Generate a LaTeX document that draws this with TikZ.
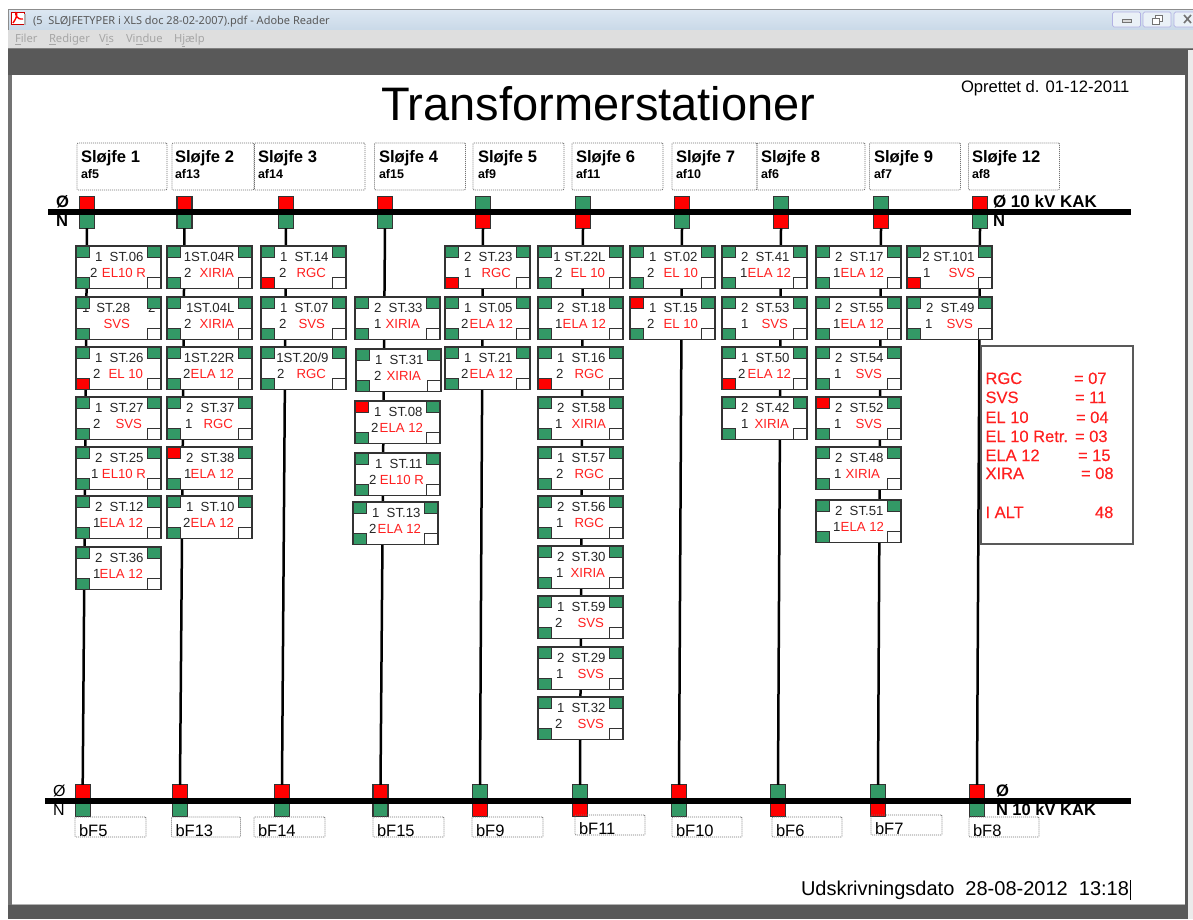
\documentclass[tikz,border=0pt]{standalone}
\usepackage{fontspec}
\setmainfont{Liberation Sans}
\newfontfamily\winfont{Noto Sans}
\newfontfamily\legfont[FakeBold=0.25]{Liberation Sans}
\definecolor{sqg}{HTML}{339966}
\definecolor{sqr}{HTML}{FF0000}
\definecolor{edge}{HTML}{333333}
\definecolor{lbl}{HTML}{FF2020}
\definecolor{tbtop}{HTML}{DCE7F2}
\definecolor{tbbot}{HTML}{C9D9E8}
\newcommand{\fs}[1]{\fontsize{#1}{#1}\selectfont}
\tikzset{
  txt/.style={inner sep=0,outer sep=0,anchor=base west},
  stnbox/.style={draw=edge,line width=1.3pt,fill=white,minimum width=85pt,minimum height=42.5pt,inner sep=0,outer sep=0,anchor=north west},
  corner/.style={draw=edge,line width=1.2pt,minimum width=13.8pt,minimum height=11.2pt,inner sep=0,outer sep=0},
  term/.style={draw=edge,line width=1.1pt,minimum width=15pt,minimum height=13.5pt,inner sep=0,outer sep=0},
  feeder/.style={draw=black,line width=2.5pt},
  busbar/.style={draw=black,line width=5.5pt},
  dotbox/.style={draw=black!55,line width=.8pt,dash pattern=on 1pt off 1pt,rounded corners=1pt,inner sep=0,outer sep=0,anchor=north west},
  hdrtxt/.style={txt,font=\bfseries\fs{16.6}},
  aftxt/.style={txt,font=\bfseries\fs{12.5}},
  bftxt/.style={txt,font=\fs{16.5}},
  bustxt/.style={txt,font=\bfseries\fs{16.6}},
  busplain/.style={txt,font=\fs{16}},
  legtxt/.style={txt,font=\legfont\fs{16.5},text=lbl},
  menutxt/.style={txt,font=\winfont\fs{11.2},text=black!35},
  winbtn/.style={draw=black!35!blue!30!white,fill=tbtop!60!white,line width=.7pt,rounded corners=1.5pt,minimum width=28pt,minimum height=15pt,inner sep=0,outer sep=0}
}
\newcommand{\stbox}[9]{%
  \node[stnbox] (#1) at (\cx,#2) {};
  \node[txt,anchor=base east,font=\fs{13.2},text=black!85] (#1a) at ({\cx+67.5},{#2+15.5}) {#5};
  \node[txt,font=\fs{13.2},text=black!85] (#1b) at ({\cx+#7-0.9},{#2+31.5}) {#6};
  \node[txt,anchor=base east,font=\fs{13.2},text=lbl] (#1c) at ({\cx+#9},{#2+31.5}) {#8};
  \node[corner,fill=#3,anchor=north west] (#1tl) at (\cx,#2) {};
  \node[corner,fill=sqg,anchor=north east] (#1tr) at ({\cx+85},#2) {};
  \node[corner,fill=#4,anchor=south west] (#1bl) at (\cx,{#2+42.5}) {};
  \node[corner,fill=white,anchor=south east] (#1br) at ({\cx+85},{#2+42.5}) {};
}
\newcommand{\hdr}[6]{%
  \node[dotbox,minimum width=#3pt,minimum height=47pt] (h#1) at (#2,143) {};
  \node[hdrtxt] (h#1a) at (#4,162) {#5};
  \node[aftxt] (h#1b) at (#4,178) {#6};
}
\newcommand{\bfb}[5]{%
  \node[dotbox,minimum width=#3pt,minimum height=20pt] (f#1) at (#2,#4) {};
  \node[bftxt] (f#1a) at ({#2+4},{#4+19.5}) {#5};
}
\begin{document}
\begin{tikzpicture}[x=1pt,y=-1pt]
\useasboundingbox (0,0) rectangle (1193,919);
% window
\fill[white] (0,0) rectangle (1193,919);
\fill[black!65] (8,48) rectangle (1193,919);
\fill[black!55] (8,75) rectangle (12,905);
\shade[top color=tbtop,bottom color=tbbot] (8,10) rectangle (1193,30);
\draw[black!45,line width=1pt] (8,9.5) -- (1193,9.5);
\draw[black!45,line width=.8pt] (8,10) -- (8,48);
\fill[black!13] (8,30) rectangle (1193,48);
\draw[black!50,line width=.7pt] (8,48.5) -- (1193,48.5);
\fill[black!8] (1188,50) rectangle (1193,919);
\fill[white] (12,75) rectangle (1185,904);
\draw[black!30,line width=.8pt] (12,904.5) -- (1185,904.5);
% icon
\draw[sqr!80!black,fill=white,line width=1pt] (11,12) rectangle (24,24);
\fill[black!30] (24,14) rectangle (26,25);
\draw[sqr,line width=1.4pt] (13,23) .. controls (18,16) and (17,13) .. (16,13) .. controls (15,13) and (16,20) .. (23,19);
\node[txt,font=\winfont\fs{11},text=black!65] (wintitle) at (33,24) {(5~~SLØJFETYPER i XLS doc 28-02-2007).pdf - Adobe Reader};
\node[menutxt] (m1) at (15,42.5) {\underline{F}iler};
\node[menutxt] (m2) at (49,42.5) {\underline{R}ediger};
\node[menutxt] (m3) at (99,42.5) {V\underline{i}s};
\node[menutxt] (m4) at (126,42.5) {Vi\underline{n}due};
\node[menutxt] (m5) at (174,42.5) {H\underline{j}ælp};
\node[winbtn] (btn1) at (1126.5,19.5) {};
\node[winbtn] (btn2) at (1157,19.5) {};
\node[winbtn] (btn3) at (1188,19.5) {};
\draw[black!55,fill=black!15,line width=.7pt] (1122,19) rectangle (1131,22);
\draw[black!55,fill=white,line width=.7pt] (1155,15) rectangle (1162,21);
\draw[black!55,fill=white,line width=.7pt] (1152,18) rectangle (1159,24);
\draw[black!55,line width=1.6pt] (1184,15) -- (1191,23) (1191,15) -- (1184,23);
% texts at page level
\node[txt,font=\fs{47}] (title) at (381,120.5) {Transformerstationer};
\node[txt,font=\fs{16.6}] (created) at (961,92) {Oprettet d. 01-12-2011};
\node[txt,font=\fs{20}] (printed) at (801,895) {Udskrivningsdato~~28-08-2012~~13:18};
\coordinate (caretA) at (1130,880);
\coordinate (caretB) at (1130,900);
\draw[black,line width=.8pt] (caretA) -- (caretB);
% headers
\hdr{1}{77}{90}{81}{Sløjfe 1}{af5}
\hdr{2}{172}{82}{175}{Sløjfe 2}{af13}
\hdr{3}{254.5}{110.5}{258}{Sløjfe 3}{af14}
\hdr{4}{374.5}{91}{379}{Sløjfe 4}{af15}
\hdr{5}{473}{91}{478}{Sløjfe 5}{af9}
\hdr{6}{572}{91}{576}{Sløjfe 6}{af11}
\hdr{7}{672}{85}{676}{Sløjfe 7}{af10}
\hdr{8}{757}{108}{761}{Sløjfe 8}{af6}
\hdr{9}{869.5}{91}{874}{Sløjfe 9}{af7}
\hdr{10}{968.5}{91}{972}{Sløjfe 12}{af8}
% terminals on the two bars
\foreach \i/\xa/\xb/\u/\l in {1/87/82.7/sqr/sqg,2/184.5/180/sqr/sqg,3/286/282/sqr/sqg,4/385/380.5/sqr/sqg,5/483/480/sqg/sqr,6/583/580/sqg/sqr,7/682/679/sqr/sqg,8/781/778/sqg/sqr,9/881/878/sqg/sqr,10/980/977/sqr/sqg}{
  \node[term,fill=\u] (Tu\i) at (\xa,203.5) {};
  \node[term,fill=\l] (Tl\i) at (\xa,221.5) {};
  \node[term,fill=\u] (Bu\i) at (\xb,791.5) {};
  \node[term,fill=\l] (Bl\i) at (\xb,810) {};
}
\foreach \i in {1,...,10}{ \draw[feeder] (Tl\i.south) -- (Bu\i.north); }
% labels by the bars
\node[bustxt] (lbTo) at (56,207.5) {Ø};
\node[bustxt] (lbTn) at (56,226.5) {N};
\node[bustxt,font=\bfseries\fs{17}] (lbTr) at (993,207.5) {Ø 10 kV KAK};
\node[bustxt] (lbTs) at (993,226.5) {N};
\node[busplain] (lbBo) at (53,796) {Ø};
\node[busplain] (lbBn) at (53,815) {N};
\node[bustxt] (lbBr) at (996,796) {Ø};
\node[bustxt,font=\bfseries\fs{16.5}] (lbBs) at (996,815) {N 10 kV KAK};
% bars
\coordinate (barTa) at (48,212);
\coordinate (barTb) at (1131,212);
\coordinate (barBa) at (45,801);
\coordinate (barBb) at (1131,801);
\draw[busbar] (barTa) -- (barTb);
\draw[busbar] (barBa) -- (barBb);
% bottom labels
\bfb{1}{75}{71}{817}{bF5}
\bfb{2}{171.5}{69}{817}{bF13}
\bfb{3}{254}{71}{817}{bF14}
\bfb{4}{373}{71}{817}{bF15}
\bfb{5}{472}{71}{817}{bF9}
\bfb{6}{575}{70}{815}{bF11}
\bfb{7}{672}{70}{817}{bF10}
\bfb{8}{772}{70}{817}{bF6}
\bfb{9}{871}{71}{815}{bF7}
\bfb{10}{969}{70}{817}{bF8}
% stations
\def\cx{76}
\stbox{s06}{246}{sqg}{sqg}{1~~ST.06}{2}{15}{EL10 R}{70}
\stbox{s28}{297}{sqg}{sqg}{1\kern7pt ST.28\kern18pt 2\kern-12pt}{}{15}{SVS}{54}
\stbox{s26}{347}{sqg}{sqr}{1~~ST.26}{2}{18}{EL 10}{67}
\stbox{s27}{397}{sqg}{sqg}{1~~ST.27}{2}{18}{SVS}{66}
\stbox{s25}{447}{sqg}{sqg}{2~~ST.25}{1}{16}{EL10 R}{70}
\stbox{s12}{496}{sqg}{sqg}{2~~ST.12}{1}{18}{ELA 12}{67}
\stbox{s36}{547}{sqg}{sqg}{2~~ST.36}{1}{18}{ELA 12}{67}
\def\cx{167}
\stbox{s04R}{246}{sqg}{sqg}{1ST.04R}{2}{18}{XIRIA}{67}
\stbox{s04L}{297}{sqg}{sqg}{1ST.04L}{2}{18}{XIRIA}{67}
\stbox{s22R}{347}{sqg}{sqg}{1ST.22R}{2}{17}{ELA 12}{67}
\stbox{s37}{397}{sqg}{sqg}{2~~ST.37}{1}{19}{RGC}{66}
\stbox{s38}{447}{sqr}{sqg}{2~~ST.38}{1}{18}{ELA 12}{67}
\stbox{s10}{496}{sqg}{sqg}{1~~ST.10}{2}{17}{ELA 12}{67}
\def\cx{261}
\stbox{s14}{246}{sqg}{sqr}{1~~ST.14}{2}{19}{RGC}{65}
\stbox{s07}{297}{sqg}{sqg}{1~~ST.07}{2}{19}{SVS}{64}
\stbox{s20}{347}{sqg}{sqg}{1ST.20/9}{2}{17}{RGC}{65}
\def\cx{355}
\stbox{s33}{297}{sqg}{sqg}{2~~ST.33}{1}{20}{XIRIA}{65}
\def\cx{356}
\stbox{s31}{349}{sqg}{sqg}{1~~ST.31}{2}{19}{XIRIA}{65}
\def\cx{355}
\stbox{s08}{401}{sqr}{sqg}{1~~ST.08}{2}{17}{ELA 12}{68}
\stbox{s11}{453}{sqg}{sqg}{1~~ST.11}{2}{15}{EL10 R}{69}
\def\cx{353}
\stbox{s13}{502}{sqg}{sqg}{1~~ST.13}{2}{17}{ELA 12}{68}
\def\cx{445}
\stbox{s23}{246}{sqg}{sqr}{2~~ST.23}{1}{20}{RGC}{66}
\stbox{s05}{297}{sqg}{sqg}{1~~ST.05}{2}{17}{ELA 12}{68}
\stbox{s21}{347}{sqg}{sqg}{1~~ST.21}{2}{17}{ELA 12}{68}
\def\cx{538}
\stbox{s22L}{246}{sqg}{sqg}{1~ST.22L}{2}{18}{EL 10}{67}
\stbox{s18}{297}{sqg}{sqg}{2~~ST.18}{1}{18}{ELA 12}{68}
\stbox{s16}{347}{sqg}{sqr}{1~~ST.16}{2}{19}{RGC}{66}
\stbox{s58}{397}{sqg}{sqg}{2~~ST.58}{1}{18}{XIRIA}{68}
\stbox{s57}{447}{sqg}{sqg}{1~~ST.57}{2}{19}{RGC}{66}
\stbox{s56}{496}{sqg}{sqg}{2~~ST.56}{1}{19}{RGC}{66}
\stbox{s30}{546}{sqg}{sqg}{2~~ST.30}{1}{19}{XIRIA}{67}
\stbox{s59}{596}{sqg}{sqg}{1~~ST.59}{2}{18}{SVS}{66}
\stbox{s29}{647}{sqg}{sqg}{2~~ST.29}{1}{19}{SVS}{66}
\stbox{s32}{697}{sqg}{sqg}{1~~ST.32}{2}{18}{SVS}{66}
\def\cx{630}
\stbox{s02}{246}{sqg}{sqg}{1~~ST.02}{2}{18}{EL 10}{68}
\stbox{s15}{297}{sqr}{sqg}{1~~ST.15}{2}{18}{EL 10}{68}
\def\cx{722}
\stbox{s41}{246}{sqg}{sqg}{2~~ST.41}{1}{19}{ELA 12}{69}
\stbox{s53}{297}{sqg}{sqg}{2~~ST.53}{1}{20}{SVS}{66}
\stbox{s50}{347}{sqg}{sqr}{1~~ST.50}{2}{17}{ELA 12}{69}
\stbox{s42}{397}{sqg}{sqg}{2~~ST.42}{1}{20}{XIRIA}{67}
\def\cx{816}
\stbox{s17}{246}{sqg}{sqg}{2~~ST.17}{1}{18}{ELA 12}{68}
\stbox{s55}{297}{sqg}{sqg}{2~~ST.55}{1}{18}{ELA 12}{68}
\stbox{s54}{347}{sqg}{sqg}{2~~ST.54}{1}{19}{SVS}{66}
\stbox{s52}{397}{sqr}{sqg}{2~~ST.52}{1}{19}{SVS}{66}
\stbox{s48}{447}{sqg}{sqg}{2~~ST.48}{1}{19}{XIRIA}{64}
\stbox{s51}{500}{sqg}{sqg}{2~~ST.51}{1}{18}{ELA 12}{68}
\def\cx{907}
\stbox{s101}{246}{sqg}{sqr}{2~ST.101}{1}{17}{SVS}{68}
\stbox{s49}{297}{sqg}{sqg}{2~~ST.49}{1}{19}{SVS}{66}
% legend
\node[draw=black!65,line width=1.2pt,fill=white,minimum width=152pt,minimum height=198pt,inner sep=0,outer sep=0,anchor=north west] (legend) at (981,346) {};
\node[legtxt] (k1) at (985.5,384) {RGC};   \node[legtxt] (v1) at (1074,384) {= 07};
\node[legtxt] (k2) at (985.5,403) {SVS};   \node[legtxt] (v2) at (1075,403) {= 11};
\node[legtxt] (k3) at (985.5,423) {EL 10}; \node[legtxt] (v3) at (1076,423) {= 04};
\node[legtxt] (k4) at (985.5,442) {EL 10 Retr.}; \node[legtxt] (v4) at (1075,442) {= 03};
\node[legtxt] (k5) at (985.5,461) {ELA 12}; \node[legtxt] (v5) at (1078,461) {= 15};
\node[legtxt] (k6) at (985.5,479) {XIRA};  \node[legtxt] (v6) at (1081,479) {= 08};
\node[legtxt] (k7) at (985.5,518) {I ALT}; \node[legtxt] (v7) at (1095,518) {48};
\end{tikzpicture}
\end{document}
